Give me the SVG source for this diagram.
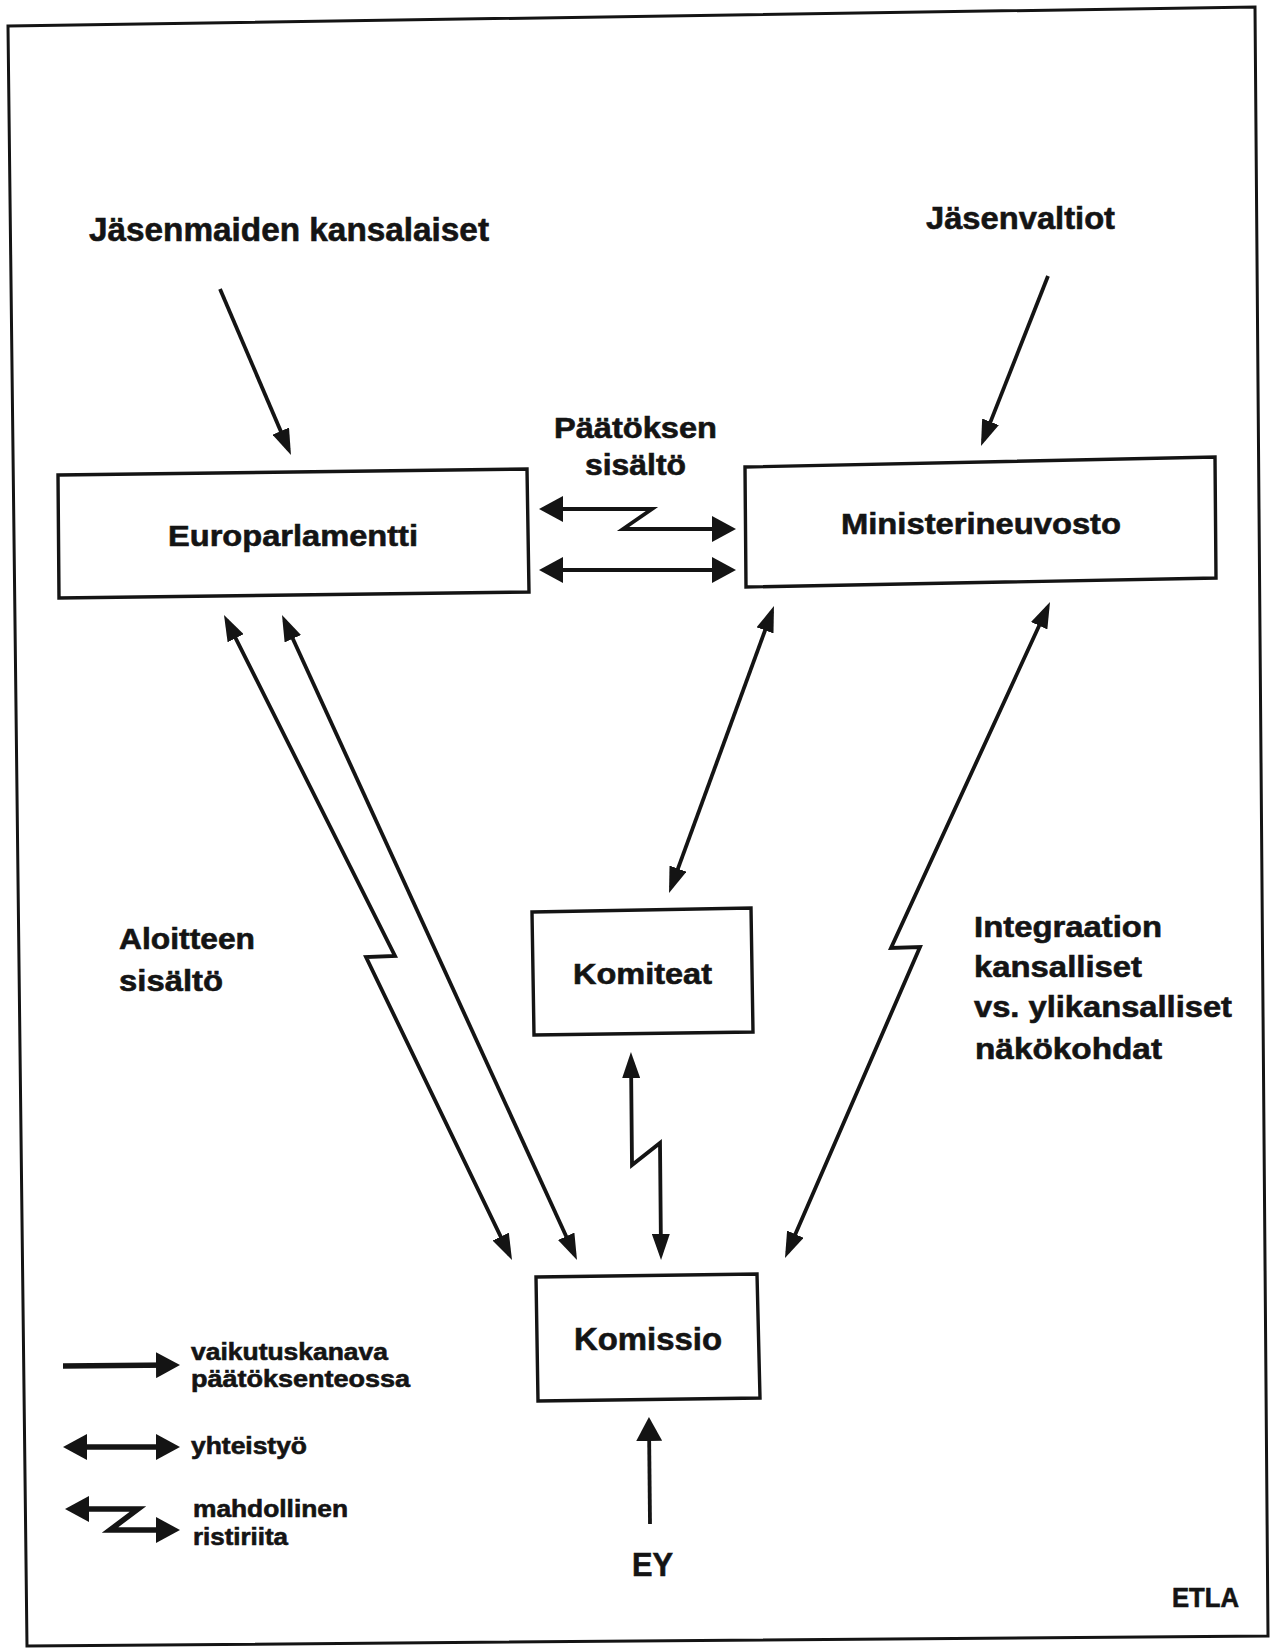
<svg xmlns="http://www.w3.org/2000/svg" width="1274" height="1648" viewBox="0 0 1274 1648">
<style>
.bx{fill:#fff;stroke:#141414;stroke-width:3.4;stroke-linejoin:miter}
.ln{fill:none;stroke:#141414;stroke-width:3.8;stroke-linejoin:miter}
.lg{fill:none;stroke:#141414;stroke-width:5.5;stroke-linejoin:miter}
.t{font-family:"Liberation Sans Narrow","Liberation Sans",Arial,sans-serif;font-weight:bold;fill:#141414;stroke:#141414;stroke-width:0.6}
</style>
<defs>
<marker id="ah" markerUnits="userSpaceOnUse" viewBox="0 0 26 18" refX="20" refY="9" markerWidth="26" markerHeight="18" orient="auto-start-reverse"><path d="M0,0 L26,9 L0,18 z" fill="#141414"/></marker>
<marker id="aw" markerUnits="userSpaceOnUse" viewBox="0 0 24 26" refX="18" refY="13" markerWidth="24" markerHeight="26" orient="auto-start-reverse"><path d="M0,0 L24,13 L0,26 z" fill="#141414"/></marker>
</defs>
<rect width="1274" height="1648" fill="#fff"/>
<polygon id="frame" points="8,26 1255,7 1268,1636 27,1646" fill="none" stroke="#141414" stroke-width="3"/>

<g id="node-europarlamentti">
<polygon class="bx" points="58,475 527,469 529,592 59,598"/>
<text class="t" x="168" y="546" font-size="30" textLength="250" lengthAdjust="spacingAndGlyphs">Europarlamentti</text>
</g>
<g id="node-ministerineuvosto">
<polygon class="bx" points="745,467 1215,457 1216,578 746,587"/>
<text class="t" x="841" y="534" font-size="30" textLength="280" lengthAdjust="spacingAndGlyphs">Ministerineuvosto</text>
</g>
<g id="node-komiteat">
<polygon class="bx" points="532,912 751,908 753,1032 534,1035"/>
<text class="t" x="573" y="984" font-size="30" textLength="139" lengthAdjust="spacingAndGlyphs">Komiteat</text>
</g>
<g id="node-komissio">
<polygon class="bx" points="536,1277 757,1274 760,1398 538,1401"/>
<text class="t" x="574" y="1350" font-size="31" textLength="148" lengthAdjust="spacingAndGlyphs">Komissio</text>
</g>
<g id="node-kansalaiset">
<text class="t" x="89" y="241" font-size="33" textLength="400" lengthAdjust="spacingAndGlyphs">Jäsenmaiden kansalaiset</text>
</g>
<g id="node-jasenvaltiot">
<text class="t" x="926" y="229" font-size="32" textLength="189" lengthAdjust="spacingAndGlyphs">Jäsenvaltiot</text>
</g>
<g id="node-ey">
<text class="t" x="632" y="1576" font-size="33" textLength="41" lengthAdjust="spacingAndGlyphs">EY</text>
</g>

<g id="connectors">
<line class="ln" x1="220" y1="289" x2="288.6" y2="449.5" marker-end="url(#ah)"/>
<line class="ln" x1="1048" y1="276" x2="983.2" y2="440.4" marker-end="url(#ah)"/>
<polyline class="ln" points="545,509 652,509 623,529 730,529" marker-start="url(#aw)" marker-end="url(#aw)"/>
<line class="ln" x1="545" y1="570" x2="730" y2="570" marker-start="url(#aw)" marker-end="url(#aw)"/>
<polyline class="ln" points="226.7,620.4 395,956 366,957 509.4,1254.6" marker-start="url(#ah)" marker-end="url(#ah)"/>
<line class="ln" x1="284.5" y1="620.5" x2="574.5" y2="1254.5" marker-start="url(#ah)" marker-end="url(#ah)"/>
<line class="ln" x1="771.9" y1="611.6" x2="671.1" y2="887.4" marker-start="url(#ah)" marker-end="url(#ah)"/>
<polyline class="ln" points="1047.5,607.5 891,948 920,947 787.4,1252.5" marker-start="url(#ah)" marker-end="url(#ah)"/>
<polyline class="ln" points="631,1058 632,1165 660,1143 661,1254" marker-start="url(#ah)" marker-end="url(#ah)"/>
<line class="ln" x1="650" y1="1524" x2="649" y2="1423" marker-end="url(#aw)"/>
</g>

<g id="labels">
<text class="t" x="554" y="438" font-size="30" textLength="163" lengthAdjust="spacingAndGlyphs">Päätöksen</text>
<text class="t" x="585" y="475" font-size="30" textLength="101" lengthAdjust="spacingAndGlyphs">sisältö</text>
<text class="t" x="119" y="949" font-size="30" textLength="136" lengthAdjust="spacingAndGlyphs">Aloitteen</text>
<text class="t" x="119" y="991" font-size="30" textLength="104" lengthAdjust="spacingAndGlyphs">sisältö</text>
<text class="t" x="974" y="937" font-size="30" textLength="188" lengthAdjust="spacingAndGlyphs">Integraation</text>
<text class="t" x="974" y="977" font-size="30" textLength="168" lengthAdjust="spacingAndGlyphs">kansalliset</text>
<text class="t" x="974" y="1017" font-size="30" textLength="258" lengthAdjust="spacingAndGlyphs">vs. ylikansalliset</text>
<text class="t" x="975" y="1059" font-size="30" textLength="187" lengthAdjust="spacingAndGlyphs">näkökohdat</text>
<text class="t" x="1172" y="1607" font-size="27" textLength="67" lengthAdjust="spacingAndGlyphs">ETLA</text>
</g>

<g id="legend">
<line class="lg" x1="63" y1="1366" x2="174" y2="1365" marker-end="url(#aw)"/>
<line class="lg" x1="69" y1="1447" x2="174" y2="1447" marker-start="url(#aw)" marker-end="url(#aw)"/>
<polyline class="lg" points="71,1509 138,1509 110,1530 174,1530" marker-start="url(#aw)" marker-end="url(#aw)"/>
<text class="t" x="191" y="1360" font-size="23" textLength="197" lengthAdjust="spacingAndGlyphs">vaikutuskanava</text>
<text class="t" x="191" y="1387" font-size="23" textLength="219" lengthAdjust="spacingAndGlyphs">päätöksenteossa</text>
<text class="t" x="191" y="1454" font-size="23" textLength="116" lengthAdjust="spacingAndGlyphs">yhteistyö</text>
<text class="t" x="193" y="1517" font-size="23" textLength="155" lengthAdjust="spacingAndGlyphs">mahdollinen</text>
<text class="t" x="193" y="1545" font-size="23" textLength="95" lengthAdjust="spacingAndGlyphs">ristiriita</text>
</g>
</svg>
